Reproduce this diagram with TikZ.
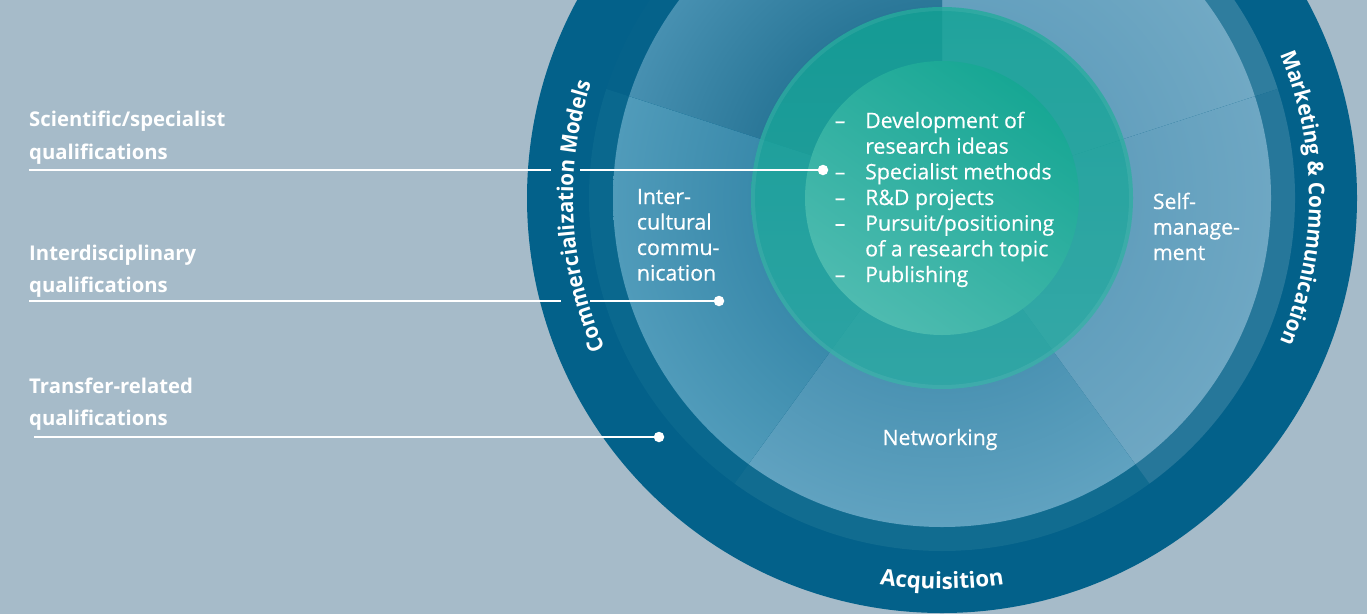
\documentclass[tikz,border=0pt]{standalone}
\usepackage{fontspec}
\setmainfont{Open Sans}
\newfontfamily\bodyfam{Open Sans}[FakeBold=0.4]
\newfontfamily\curvefam{Open Sans}[FakeStretch=0.94]
\usetikzlibrary{decorations.text,calc}
\definecolor{bg}{HTML}{A6BBC9}
\definecolor{band}{HTML}{03618A}
\definecolor{wOneIn}{HTML}{64A0BE}
\definecolor{wOneOut}{HTML}{71A9C4}
\definecolor{wTwoIn}{HTML}{2A7798}
\definecolor{wTwoOut}{HTML}{4790B1}
\definecolor{wThreeIn}{HTML}{3A8AAB}
\definecolor{wThreeOut}{HTML}{509BBA}
\definecolor{wFourIn}{HTML}{4B93B3}
\definecolor{wFourOut}{HTML}{60A2C0}
\definecolor{wFiveIn}{HTML}{629FBD}
\definecolor{wFiveOut}{HTML}{6EA7C3}
\definecolor{rOne}{HTML}{2F7D9E}
\definecolor{rTwo}{HTML}{05628A}
\definecolor{rThree}{HTML}{0A688E}
\definecolor{rFour}{HTML}{116C90}
\definecolor{rFive}{HTML}{26779A}
\definecolor{tealA}{HTML}{10A494}
\definecolor{tealB}{HTML}{2AAAA2}
\definecolor{innerA}{HTML}{17A794}
\definecolor{innerB}{HTML}{4EBBB0}
\pgfdeclareradialshading{shOne}{\pgfpointorigin}{color(0bp)=(wOneIn); color(14.5bp)=(wOneIn); color(25bp)=(wOneOut); color(50bp)=(wOneOut)}
\pgfdeclareradialshading{shTwo}{\pgfpointorigin}{color(0bp)=(wTwoIn); color(14.5bp)=(wTwoIn); color(25bp)=(wTwoOut); color(50bp)=(wTwoOut)}
\pgfdeclareradialshading{shThree}{\pgfpointorigin}{color(0bp)=(wThreeIn); color(14.5bp)=(wThreeIn); color(25bp)=(wThreeOut); color(50bp)=(wThreeOut)}
\pgfdeclareradialshading{shFour}{\pgfpointorigin}{color(0bp)=(wFourIn); color(14.5bp)=(wFourIn); color(25bp)=(wFourOut); color(50bp)=(wFourOut)}
\pgfdeclareradialshading{shFive}{\pgfpointorigin}{color(0bp)=(wFiveIn); color(14.5bp)=(wFiveIn); color(25bp)=(wFiveOut); color(50bp)=(wFiveOut)}
\newcommand{\wedgeseg}[4]{%
  \fill[#3] (C) -- ++(#1:353) arc[start angle=#1, end angle=#2, radius=353] -- cycle;
  \begin{scope}
    \clip (C) -- ++(#1:329) arc[start angle=#1, end angle=#2, radius=329] -- cycle;
    \shade[shading=#4] (C) circle[radius=329];
  \end{scope}}
\newcommand{\curvefont}{\curvefam\fontsize{21.8}{24}\selectfont\bfseries}
\newcommand{\acqfont}{\fontsize{22.3}{24}\selectfont\bfseries}
\begin{document}
\begin{tikzpicture}[x=1pt, y=1pt,
  lbl/.style={text=white, font=\fontsize{20.3}{24}\selectfont\bfseries, inner sep=0pt, anchor=base west},
  body/.style={text=white, font=\bodyfam\fontsize{21.3}{24}\selectfont, inner sep=0pt, anchor=base west},
  dashlbl/.style={text=white, font=\bodyfam\fontsize{21.3}{24}\selectfont, inner sep=0pt, anchor=base},
  conn/.style={draw=white, line width=1.4pt},
  dot/.style={circle, fill=white, inner sep=0pt, minimum size=10.5pt}]
\useasboundingbox (0,0) rectangle (1367,-614);
\clip (0,0) rectangle (1367,-614);
\fill[bg] (0,0) rectangle (1367,-614);
\coordinate (C) at (942,-198);
% outer band
\fill[band] (C) circle[radius=415];
% five segments
\wedgeseg{18}{90}{rOne}{shOne}
\wedgeseg{90}{162}{rTwo}{shTwo}
\wedgeseg{162}{234}{rThree}{shThree}
\wedgeseg{234}{306}{rFour}{shFour}
\wedgeseg{306}{378}{rFive}{shFive}
% teal ring (slightly transparent)
\begin{scope}[fill opacity=0.8]
  \shade[top color=tealA, bottom color=tealB] (C) circle[radius=191];
\end{scope}
\draw[white, opacity=0.07, line width=4pt] (C) circle[radius=189];
% inner circle
\shade[top color=innerA, bottom color=innerB, shading angle=-35] (C) circle[radius=137];
% curved ring texts
\path[decorate, decoration={text along path, text={|\curvefont|Commercialization Models}, text align=center, text color=white}]
  ($(C)+(228:369)$) arc[start angle=228, end angle=138, radius=369];
\path[decorate, decoration={text along path, text={|\curvefont|Marketing {\&} Communication}, text align=center, text color=white}]
  ($(C)+(45:367)$) arc[start angle=45, end angle=-45, radius=367];
\path[decorate, decoration={text along path, text={|\acqfont|Acquisition}, text align=center, text color=white}]
  ($(C)+(225:391)$) arc[start angle=225, end angle=315, radius=391];
% segment texts
\node[body] (ic1) at (636.7,-204) {Inter-};
\node[body] (ic2) at (636.7,-229.5) {cultural};
\node[body] (ic3) at (636.7,-255) {commu-};
\node[body] (ic4) at (636.7,-280.5) {nication};
\node[body] (sm1) at (1152.7,-209) {Self-};
\node[body] (sm2) at (1152.7,-234.5) {manage-};
\node[body] (sm3) at (1152.7,-260) {ment};
\node[body, anchor=base] (net) at (940,-445) {Networking};
% core list
\node[dashlbl] (d1) at (840,-128) {–};
\node[dashlbl] (d2) at (840,-179.3) {–};
\node[dashlbl] (d3) at (840,-205) {–};
\node[dashlbl] (d4) at (840,-230.7) {–};
\node[dashlbl] (d5) at (840,-282) {–};
\node[body] (l1) at (865,-128) {Development of};
\node[body] (l2) at (865,-153.7) {research ideas};
\node[body] (l3) at (865,-179.3) {Specialist methods};
\node[body] (l4) at (865,-205) {R\&D projects};
\node[body] (l5) at (865,-230.7) {Pursuit/positioning};
\node[body] (l6) at (865,-256.3) {of a research topic};
\node[body] (l7) at (865,-282) {Publishing};
% left labels
\node[lbl] (sciA) at (29,-126) {Scientific/specialist};
\node[lbl] (sciB) at (29,-159.3) {qualifications};
\node[lbl] (intA) at (29,-260) {Interdisciplinary};
\node[lbl] (intB) at (29,-292.7) {qualifications};
\node[lbl] (trA) at (29,-393.3) {Transfer-related};
\node[lbl] (trB) at (29,-425) {qualifications};
% connectors
\coordinate (sciL) at (29,-170);
\coordinate (sciG1) at (551,-170);
\coordinate (sciG2) at (580,-170);
\node[dot] (sciD) at (823,-170) {};
\draw[conn] (sciL) -- (sciG1);
\draw[conn] (sciG2) -- (sciD);
\coordinate (intL) at (29,-301);
\coordinate (intG1) at (561,-301);
\coordinate (intG2) at (590,-301);
\node[dot] (intD) at (719,-301) {};
\draw[conn] (intL) -- (intG1);
\draw[conn] (intG2) -- (intD);
\coordinate (trL) at (34,-437);
\node[dot] (trD) at (659,-437) {};
\draw[conn] (trL) -- (trD);
\end{tikzpicture}
\end{document}
